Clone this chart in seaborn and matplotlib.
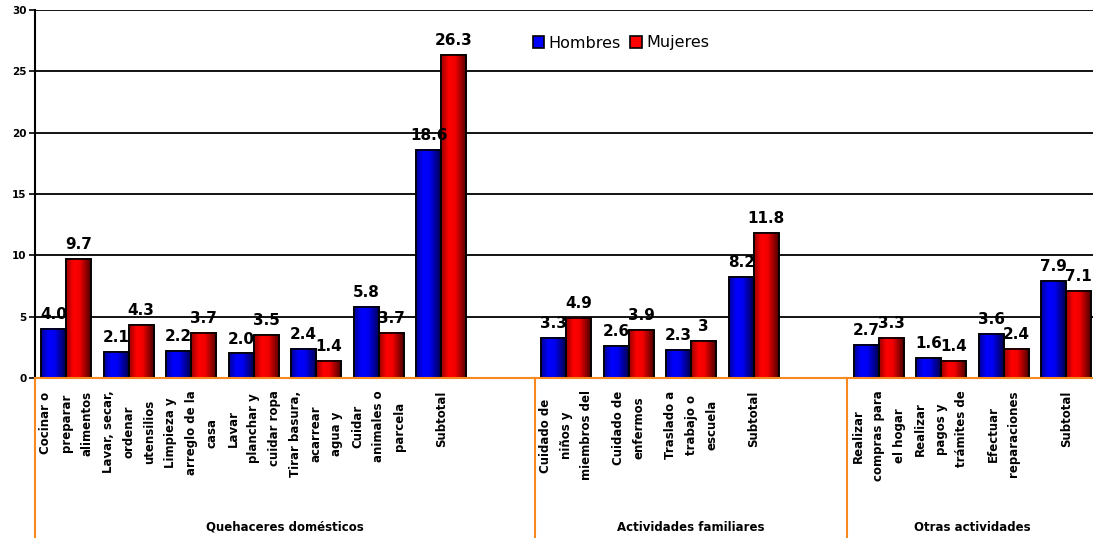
import numpy as np
import pandas as pd
import seaborn as sns
import matplotlib.pyplot as plt
from matplotlib.patches import Rectangle
from matplotlib.colors import to_rgb
from matplotlib.transforms import blended_transform_factory

# activity labels (x axis, wrapped as in the original)
activities = [
    "Cocinar o\npreparar\nalimentos",
    "Lavar, secar,\nordenar\nutensilios",
    "Limpieza y\narreglo de la\ncasa",
    "Lavar\nplanchar y\ncuidar ropa",
    "Tirar basura,\nacarrear\nagua y",
    "Cuidar\nanimales o\nparcela",
    "Subtotal",
    "Cuidado de\nniños y\nmiembros del",
    "Cuidado de\nenfermos",
    "Traslado a\ntrabajo o\nescuela",
    "Subtotal",
    "Realizar\ncompras para\nel hogar",
    "Realizar\npagos y\ntrámites de",
    "Efectuar\nreparaciones",
    "Subtotal",
]
groups = ["Quehaceres domésticos", "Actividades familiares", "Otras actividades"]
group_sizes = [7, 4, 4]

hombres = [4.0, 2.1, 2.2, 2.0, 2.4, 5.8, 18.6, 3.3, 2.6, 2.3, 8.2, 2.7, 1.6, 3.6, 7.9]
mujeres = [9.7, 4.3, 3.7, 3.5, 1.4, 3.7, 26.3, 4.9, 3.9, 3.0, 11.8, 3.3, 1.4, 2.4, 7.1]
hombres_txt = ["4.0", "2.1", "2.2", "2.0", "2.4", "5.8", "18.6", "3.3", "2.6", "2.3", "8.2", "2.7", "1.6", "3.6", "7.9"]
mujeres_txt = ["9.7", "4.3", "3.7", "3.5", "1.4", "3.7", "26.3", "4.9", "3.9", "3", "11.8", "3.3", "1.4", "2.4", "7.1"]

colors = {"Hombres": "#0000ff", "Mujeres": "#ff0000"}

# unique keys per activity, with an empty slot after the first two groups
keys = [f"a{i}" for i in range(len(activities))]
order = []
tick_labels = []
group_bounds = []  # (start, end) slot index for each group
i = 0
for g, n in enumerate(group_sizes):
    start = len(order)
    for _ in range(n):
        order.append(keys[i])
        tick_labels.append(activities[i])
        i += 1
    if g < len(group_sizes) - 1:
        order.append(f"gap{g}")
        tick_labels.append("")
    group_bounds.append((start, len(order)))

df = pd.DataFrame({
    "actividad": keys * 2,
    "sexo": ["Hombres"] * len(keys) + ["Mujeres"] * len(keys),
    "horas": hombres + mujeres,
})

W, H = 1093, 538
fig = plt.figure(figsize=(W / 100, H / 100), dpi=100)
ax = fig.add_axes([35 / W, (H - 378) / H, 1062.5 / W, 368 / H])

sns.barplot(data=df, x="actividad", y="horas", hue="sexo", order=order,
            hue_order=["Hombres", "Mujeres"], palette=colors,
            saturation=1, edgecolor="black", linewidth=1.2, errorbar=None, ax=ax)

# Excel-style horizontal shading on each bar
t = np.linspace(0, 1, 64)
shade = np.interp(t, [0, 0.3, 0.55, 1], [0.6, 1.0, 0.95, 0.3])
for cont, sexo in zip(ax.containers, ["Hombres", "Mujeres"]):
    base = np.array(to_rgb(colors[sexo]))
    grad = (shade[:, None] * base[None, :])[None, :, :]
    for bar in cont:
        x, w, h = bar.get_x(), bar.get_width(), bar.get_height()
        ax.imshow(grad, extent=[x, x + w, 0, h], aspect="auto",
                  interpolation="bilinear", zorder=bar.get_zorder() + 0.1)
        ax.add_patch(Rectangle((x, 0), w, h, fill=False, edgecolor="black",
                               linewidth=1.2, zorder=bar.get_zorder() + 0.2))

for cont, txt in zip(ax.containers, [hombres_txt, mujeres_txt]):
    ax.bar_label(cont, labels=txt, padding=5, fontsize=11, fontweight="bold",
                 zorder=5)

ax.set_xlim(-0.5, len(order) - 0.5)
ax.set_ylim(0, 30)
ax.set_yticks(range(0, 31, 5))
ax.yaxis.grid(True, color="black", linewidth=1.3)
ax.set_axisbelow(True)
ax.set_xlabel("")
ax.set_ylabel("")

ax.set_xticks(range(len(order)))
ax.set_xticklabels(tick_labels, rotation=90, va="top", ha="center",
                   multialignment="center", fontsize=8.5, fontweight="bold",
                   linespacing=1.75)
ax.tick_params(axis="x", length=0, pad=9)
ax.tick_params(axis="y", length=4, width=1.2, labelsize=7.5, pad=2)
for lab in ax.get_yticklabels():
    lab.set_fontweight("bold")

for s in ["top", "right"]:
    ax.spines[s].set_visible(False)
ax.spines["left"].set_color("black")
ax.spines["left"].set_linewidth(1.5)
orange = "#f7891f"
ax.spines["bottom"].set_color(orange)
ax.spines["bottom"].set_linewidth(1.5)

# group dividers and group labels under the axis
trans = blended_transform_factory(ax.transData, ax.transAxes)
for name, (start, end) in zip(groups, group_bounds):
    ax.plot([start - 0.5, start - 0.5], [0, -0.45], color=orange, lw=1.5,
            transform=trans, clip_on=False)
    ax.text((start + end - 1) / 2, -0.405, name, transform=trans, ha="center",
            va="center", fontsize=8.5, fontweight="bold")

handles, labels = ax.get_legend_handles_labels()
ax.legend(handles, labels, loc="center", bbox_to_anchor=(621 / W, 1 - 43 / H),
          bbox_transform=fig.transFigure, ncol=2, frameon=False, fontsize=11.5,
          handlelength=0.7, handleheight=0.7, handletextpad=0.3,
          columnspacing=0.6, borderpad=0)

fig.savefig("out.png", dpi=100)
